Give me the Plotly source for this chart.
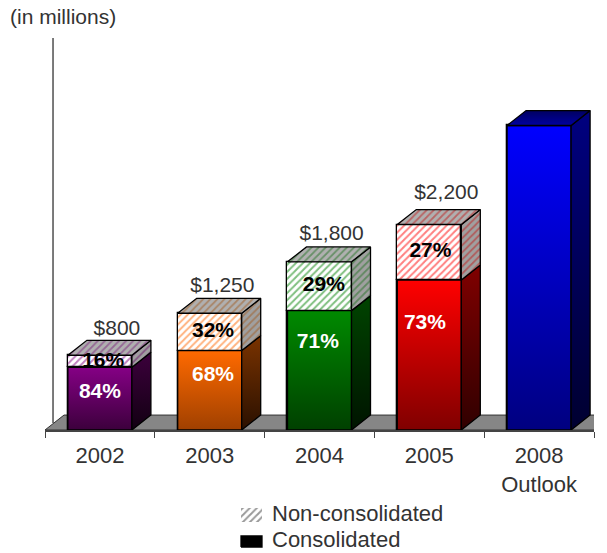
import plotly.graph_objects as go

# Funding volumes, in millions of dollars
years = ["2002", "2003", "2004", "2005", "2008<br>Outlook"]
totals = [800, 1250, 1800, 2200]
outlook_total = 3260
consolidated_pct = [84, 68, 71, 73]
non_consolidated_pct = [16, 32, 29, 27]
total_labels = ["$800", "$1,250", "$1,800", "$2,200"]
legend_names = ["Non-consolidated", "Consolidated"]

# Colour ramps per bar: front top, front bottom, side top, side bottom
front_top = ["#850085", "#ff6a00", "#008a00", "#ff0000", "#0000ff"]
front_bottom = ["#3c003c", "#a04000", "#004000", "#800000", "#000080"]
side_top = ["#3c003c", "#7a3300", "#004400", "#800000", "#000080"]
side_bottom = ["#120012", "#2a1000", "#001400", "#300000", "#000030"]
hatch_colors = ["#800080", "#ff6600", "#008000", "#ff0000"]
hatch_side = ["#6a106a", "#a05a20", "#207020", "#c01818"]
hatch_roof = ["#7a207a", "#a05a20", "#207020", "#c01818"]

BAR_WIDTH = 0.583
DEPTH_X = 0.173
DEPTH_Y = 160
TOTAL_LABEL_DX = [0.155, 0.115, 0.11, 0.155]
TOTAL_LABEL_DY = [275, 285, 295, 330]
LABEL_HEIGHT = [0.6, 0.68, 0.73, 0.71]
CONS_LABEL_DX = [0.0, 0.03, -0.015, -0.04]
NON_LABEL_DX = [0.03, 0.03, 0.04, 0.01]
TEXT = "Liberation Sans"
TEXT_COLOR = "#333333"

# The key sits in its own small panel under the axis, measured in panel units
KEY_LEFT, KEY_RIGHT, KEY_TEXT_LEFT = 241, 262, 272
KEY_ROWS = [(508, 522), (536, 547)]
KEY_TEXT_Y = [515, 541]

MARGIN_TOP, PLOT_BOTTOM, PAGE_H = 19, 430, 553
split = (PAGE_H - PLOT_BOTTOM) / (PAGE_H - MARGIN_TOP)

xpos = list(range(len(years)))
fig = go.Figure()


def polygon(xs, ys, outline="#000000", axes=("x", "y"), **kw):
    fig.add_trace(go.Scatter(
        x=xs + xs[:1], y=ys + ys[:1], mode="lines", fill="toself",
        line=dict(color=outline, width=1.3), cliponaxis=False,
        xaxis=axes[0], yaxis=axes[1], showlegend=False, hoverinfo="skip", **kw))


def ramp(top, bottom):
    return dict(type="vertical", colorscale=[[0, bottom], [1, top]])


def side_face(x, low, high):
    r = x + BAR_WIDTH / 2
    return [r, r + DEPTH_X, r + DEPTH_X, r], [low, low + DEPTH_Y, high + DEPTH_Y, high]


def roof_face(x, high):
    l, r = x - BAR_WIDTH / 2, x + BAR_WIDTH / 2
    return [l, l + DEPTH_X, r + DEPTH_X, r], [high, high + DEPTH_Y, high + DEPTH_Y, high]


def front_face(x, low, high):
    l, r = x - BAR_WIDTH / 2, x + BAR_WIDTH / 2
    return [l, r, r, l], [low, low, high, high]


heights = [t * p / 100 for t, p in zip(totals, consolidated_pct)]
upper = [t - h for t, h in zip(totals, heights)]

# Front faces of the stacked bars
fig.add_trace(go.Bar(
    x=xpos[:4], y=heights, width=BAR_WIDTH, showlegend=False, hoverinfo="skip",
    marker=dict(color=front_top[:4], line=dict(color="#000000", width=1.3))))
fig.add_trace(go.Bar(
    x=xpos[:4], y=upper, base=heights, width=BAR_WIDTH, showlegend=False, hoverinfo="skip",
    marker=dict(color="#ffffff", line=dict(color="#000000", width=1.3),
                pattern=dict(shape="/", fgcolor=hatch_colors, bgcolor="#ffffff",
                             size=5, solidity=0.4))))
fig.add_trace(go.Bar(
    x=[xpos[4]], y=[outlook_total], width=BAR_WIDTH, showlegend=False, hoverinfo="skip",
    marker=dict(color=front_top[4], line=dict(color="#000000", width=1.3))))

# Gradient shading and 3D faces
for i in range(4):
    xs, ys = front_face(i, 0, heights[i])
    polygon(xs, ys, fillgradient=ramp(front_top[i], front_bottom[i]))
    xs, ys = side_face(i, 0, heights[i])
    polygon(xs, ys, fillgradient=ramp(side_top[i], side_bottom[i]))
    xs, ys = side_face(i, heights[i], totals[i])
    polygon(xs, ys, fillcolor="#a0a0a0",
            fillpattern=dict(shape="/", fgcolor=hatch_side[i], bgcolor="#a0a0a0",
                             size=5, solidity=0.35))
    xs, ys = roof_face(i, totals[i])
    polygon(xs, ys, fillcolor="#b0b0b0",
            fillpattern=dict(shape="/", fgcolor=hatch_roof[i], bgcolor="#b0b0b0",
                             size=5, solidity=0.35))

xs, ys = front_face(4, 0, outlook_total)
polygon(xs, ys, fillgradient=ramp(front_top[4], front_bottom[4]))
xs, ys = side_face(4, 0, outlook_total)
polygon(xs, ys, fillgradient=ramp(side_top[4], side_bottom[4]))
xs, ys = roof_face(4, outlook_total)
polygon(xs, ys, fillgradient=ramp("#000060", "#0000a0"))

# Value labels
fig.add_trace(go.Scatter(
    x=[i + d for i, d in zip(xpos, TOTAL_LABEL_DX)],
    y=[t + d for t, d in zip(totals, TOTAL_LABEL_DY)],
    mode="text", text=total_labels, textposition="middle center",
    textfont=dict(family=TEXT, size=21, color=TEXT_COLOR),
    showlegend=False, hoverinfo="skip", cliponaxis=False))
fig.add_trace(go.Scatter(
    x=[i + d for i, d in zip(xpos, CONS_LABEL_DX)],
    y=[h * f for h, f in zip(heights, LABEL_HEIGHT)],
    mode="text", text=[f"{p}%" for p in consolidated_pct], textposition="middle center",
    textfont=dict(family=TEXT, size=21, color="#ffffff", weight="bold"),
    showlegend=False, hoverinfo="skip"))
fig.add_trace(go.Scatter(
    x=[i + d for i, d in zip(xpos, NON_LABEL_DX)],
    y=[h + u / 2 for h, u in zip(heights, upper)],
    mode="text", text=[f"{p}%" for p in non_consolidated_pct], textposition="middle center",
    textfont=dict(family=TEXT, size=21, color="#000000", weight="bold"),
    showlegend=False, hoverinfo="skip"))

# Key: hatched and solid swatches with their names
key_x = [KEY_LEFT, KEY_RIGHT, KEY_RIGHT, KEY_LEFT]
top_row, bottom_row = KEY_ROWS
polygon(key_x, [top_row[1], top_row[1], top_row[0], top_row[0]],
        outline="rgba(0,0,0,0)", axes=("x2", "y2"), fillcolor="#ffffff",
        fillpattern=dict(shape="/", fgcolor="#333333", bgcolor="#ffffff", size=5, solidity=0.4))
polygon(key_x, [bottom_row[1], bottom_row[1], bottom_row[0], bottom_row[0]],
        axes=("x2", "y2"), fillcolor="#000000")
fig.add_trace(go.Scatter(
    x=[KEY_TEXT_LEFT, KEY_TEXT_LEFT], y=KEY_TEXT_Y, xaxis="x2", yaxis="y2",
    mode="text", text=legend_names, textposition="middle right",
    textfont=dict(family=TEXT, size=22, color=TEXT_COLOR),
    showlegend=False, hoverinfo="skip", cliponaxis=False))

x_left, x_right = -0.5, 4.5
fig.update_layout(
    width=607, height=PAGE_H, autosize=False, paper_bgcolor="#ffffff", plot_bgcolor="rgba(0,0,0,0)",
    margin=dict(l=45, r=13, t=MARGIN_TOP, b=0, autoexpand=False), barmode="overlay", bargap=0,
    font=dict(family=TEXT, color=TEXT_COLOR), showlegend=False,
    xaxis=dict(range=[x_left, x_right], tickmode="array", tickvals=xpos, ticktext=years,
               tickangle=0, automargin=False, ticklabelstandoff=5, anchor="y",
               ticks="", showgrid=False, zeroline=False, showline=True, linecolor="#444444",
               linewidth=1.5, tickfont=dict(size=22, color=TEXT_COLOR),
               minor=dict(tickmode="array", tickvals=[x_left + i for i in range(6)],
                          ticks="outside", ticklen=6, tickcolor="#444444", showgrid=False)),
    yaxis=dict(range=[0, 4400], domain=[split, 1], visible=False, showgrid=False, zeroline=False),
    xaxis2=dict(range=[45, 594], anchor="y2", visible=False, showgrid=False, zeroline=False),
    yaxis2=dict(range=[PAGE_H, PLOT_BOTTOM], domain=[0, split], anchor="x2", visible=False,
                showgrid=False, zeroline=False),
    shapes=[
        # Floor plane behind the baseline
        dict(type="path", layer="below", xref="x", yref="y",
             path=f"M {x_left},0 L {x_left + DEPTH_X},{DEPTH_Y} L {x_right + DEPTH_X},{DEPTH_Y} "
                  f"L {x_right},0 Z",
             fillcolor="#868686", line=dict(color="#333333", width=1)),
        # Vertical value axis
        dict(type="line", layer="below", xref="x", yref="y",
             x0=x_left + 0.073, x1=x_left + 0.073, y0=75, y1=4197,
             line=dict(color="#333333", width=1.3)),
    ],
    annotations=[dict(text="(in millions)", xref="paper", yref="paper", x=-37 / 549, y=1.005,
                      xanchor="left", yanchor="middle", showarrow=False,
                      font=dict(size=21, color=TEXT_COLOR))],
)

fig.write_html("out.html")
